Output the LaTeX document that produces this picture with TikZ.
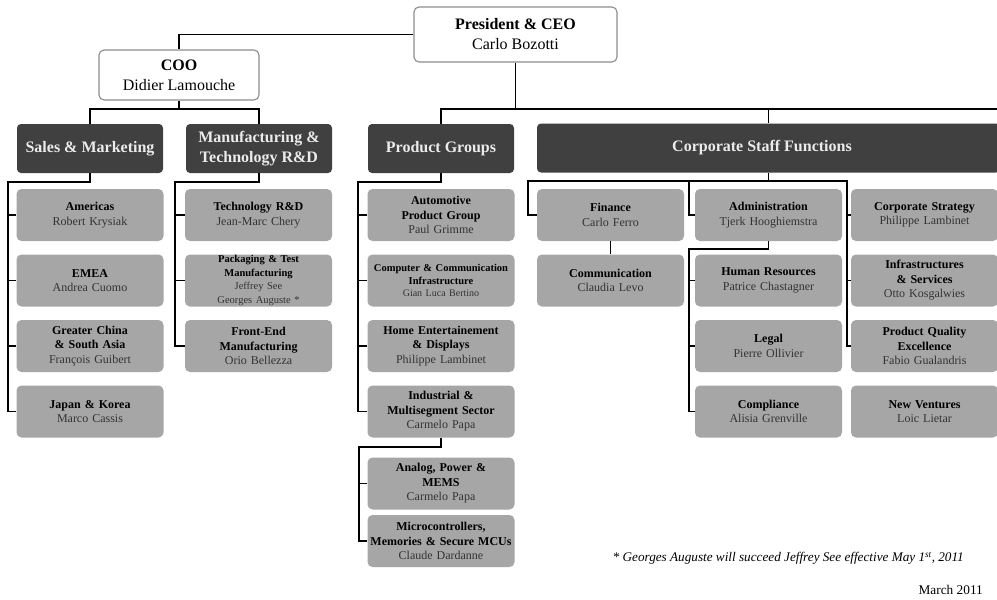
\documentclass[tikz,border=0pt]{standalone}
\usepackage{fontspec}
\setmainfont{Liberation Serif}
\definecolor{hdr}{HTML}{404040}
\definecolor{subc}{HTML}{A6A6A6}
\definecolor{namec}{HTML}{333333}
\definecolor{brd}{HTML}{8C8C8C}
\newcommand{\tn}[2]{{\bfseries #1}\\{\color{namec}#2}}
\begin{document}
\begin{tikzpicture}[x=1pt,y=-1pt,
  exec/.style={draw=brd, line width=1.1pt, fill=white, rounded corners=5pt, align=center, inner sep=0pt, font=\fontsize{16}{20}\selectfont},
  head/.style={fill=hdr, rounded corners=4pt, align=center, inner sep=0pt, text=white!92!black, font=\bfseries\fontsize{16}{20}\selectfont, minimum height=49pt},
  sub/.style={fill=subc, rounded corners=5pt, align=center, inner sep=0pt, text width=145pt, minimum width=147pt, minimum height=52pt, font=\fontsize{12}{14.5}\selectfont},
  conn/.style={line width=1.7pt, draw=black},
  note/.style={inner sep=0pt, anchor=east}]
\clip (0,0) rectangle (997,600);
\fill[white] (0,0) rectangle (997,600);

% executives
\node[exec, minimum width=203pt, minimum height=55pt] (pres) at (515.5,34.5) {\textbf{President \& CEO}\\Carlo Bozotti};
\node[exec, minimum width=160pt, minimum height=50pt] (coo) at (179,75) {\textbf{COO}\\Didier Lamouche};

% headers
\node[head, minimum width=146pt] (sales) at (90,148.5) {Sales \& Marketing};
\node[head, minimum width=146pt] (manuf) at (259,148.5) {Manufacturing \&\\Technology R\&D};
\node[head, minimum width=146pt] (pg) at (441,148.5) {Product Groups};
\node[head, minimum width=463pt] (corp) at (768.5,148) {\hspace*{-13pt}Corporate Staff Functions};

% column 1
\node[sub] (am) at (90,215) {\tn{Americas}{Robert Krysiak}};
\node[sub] (emea) at (90,280.5) {\tn{EMEA}{Andrea Cuomo}};
\node[sub] (gc) at (90,346) {\tn{Greater China\\\& South Asia}{François Guibert}};
\node[sub] (jk) at (90,411.5) {\tn{Japan \& Korea}{Marco Cassis}};

% column 2
\node[sub] (trd) at (258.5,215) {\tn{Technology R\&D}{Jean-Marc Chery}};
\node[sub, font=\fontsize{10.5}{13.5}\selectfont] (pt) at (258.5,280.5) {\tn{Packaging \& Test\\Manufacturing}{Jeffrey See\\Georges Auguste *}};
\node[sub] (fe) at (258.5,346) {\tn{Front-End\\Manufacturing}{Orio Bellezza}};

% column 3
\node[sub] (apg) at (441,215) {\tn{Automotive\\Product Group}{Paul Grimme}};
\node[sub, font=\fontsize{10.5}{12.5}\selectfont] (cci) at (441,280.5) {\tn{Computer \& Communication\\Infrastructure}{\fontsize{10}{12.5}\selectfont Gian Luca Bertino}};
\node[sub] (hed) at (441,346) {\tn{Home Entertainement\\\& Displays}{Philippe Lambinet}};
\node[sub] (ims) at (441,411.5) {\tn{Industrial \&\\Multisegment Sector}{Carmelo Papa}};
\node[sub] (apm) at (441,483.5) {\tn{Analog, Power \&\\MEMS}{Carmelo Papa}};
\node[sub] (mmc) at (441,541) {\tn{Microcontrollers,\\Memories \& Secure MCUs}{Claude Dardanne}};

% column 4
\node[sub] (fin) at (610.5,215) {\tn{Finance}{Carlo Ferro}};
\node[sub] (com) at (610.5,280.5) {\tn{Communication}{Claudia Levo}};

% column 5
\node[sub] (adm) at (768.5,215) {\tn{Administration}{Tjerk Hooghiemstra}};
\node[sub] (hr) at (768.5,280.5) {\tn{Human Resources}{Patrice Chastagner}};
\node[sub] (leg) at (768.5,346) {\tn{Legal}{Pierre Ollivier}};
\node[sub] (cmp) at (768.5,411.5) {\tn{Compliance}{Alisia Grenville}};

% column 6
\node[sub] (cs) at (924.5,215) {\tn{Corporate Strategy}{Philippe Lambinet}};
\node[sub] (inf) at (924.5,280.5) {\tn{Infrastructures\\\& Services}{Otto Kosgalwies}};
\node[sub] (pqe) at (924.5,346) {\tn{Product Quality\\Excellence}{Fabio Gualandris}};
\node[sub] (nv) at (924.5,411.5) {\tn{New Ventures}{Loic Lietar}};

% connectors: top levels
\coordinate (redge) at (1000,109);
\draw[conn] (pres.west) -| (coo.north);
\draw[conn] (coo.south) -- ++(0,9);
\draw[conn] (sales.north) -- ++(0,-15) -| (manuf.north);
\draw[conn] (pg.north) -- ++(0,-15) -| (pres.south);
\draw[conn] (pg.north |- redge) -- (redge);
\draw[conn] (corp.north) -- ++(0,-15);

% sales
\draw[conn] (sales.south) -- ++(0,9) -| ([xshift=-8pt]jk.west) -- (jk.west);
\foreach \n in {am,emea,gc} \draw[conn] (\n.west) -- ++(-8,0);
% manufacturing
\draw[conn] (manuf.south) -- ++(0,9) -| ([xshift=-10pt]fe.west) -- (fe.west);
\foreach \n in {trd,pt} \draw[conn] (\n.west) -- ++(-10,0);
% product groups
\draw[conn] (pg.south) -- ++(0,9) -| ([xshift=-9.5pt]ims.west) -- (ims.west);
\foreach \n in {apg,cci,hed} \draw[conn] (\n.west) -- ++(-9.5,0);
\draw[conn] (ims.south) -- ++(0,9.5) -| ([xshift=-8.5pt]mmc.west) -- (mmc.west);
\draw[conn] (apm.west) -- ++(-8.5,0);
% corporate
\draw[conn] (corp.south) -- ++(0,8) coordinate (cj);
\draw[conn] (fin.west) -- ++(-9,0) |- (cj) -| ([xshift=-4pt]pqe.west) -- (pqe.west);
\draw[conn] (adm.west) -- ++(-6,0) |- (cj);
\foreach \n in {cs,inf} \draw[conn] (\n.west) -- ++(-4,0);
\draw[conn] (fin.south) -- (com.north);
\draw[conn] (adm.south) -- ++(0,7.5) -| ([xshift=-6pt]cmp.west) -- (cmp.west);
\foreach \n in {hr,leg} \draw[conn] (\n.west) -- ++(-6,0);

% notes
\node[note, font=\itshape\fontsize{13.2}{15}\selectfont] (fn) at (964,558) {* Georges Auguste will succeed Jeffrey See effective May 1\textsuperscript{st}, 2011};
\node[note, font=\fontsize{13.3}{15}\selectfont] (date) at (983,590) {March 2011};
\end{tikzpicture}
\end{document}
